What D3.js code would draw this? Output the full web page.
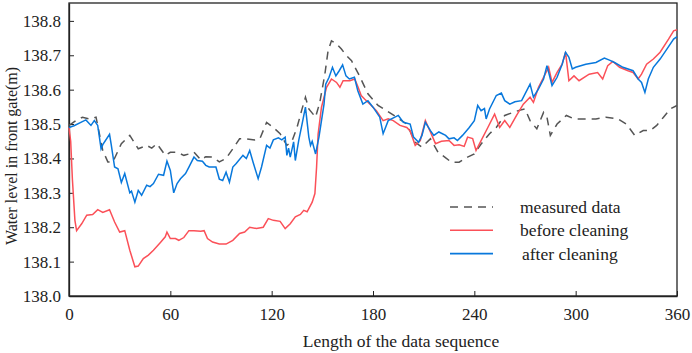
<!DOCTYPE html>
<meta charset="utf-8">
<style>
body { margin: 0; background: #fff; }
.domain { stroke: #222; stroke-width: 1.3px; }
.tick line { stroke: #222; }
</style>
<script src="https://d3js.org/d3.v7.min.js"></script>
<body>
<svg id="chart" width="692" height="353"></svg>
<script>

// sequence positions and water levels
var seqMeasured = [0,4,8,12,16,20,23,26,31,36,41,46,49,52,57,60,64,68,71,74,78,81,85,89,93,97,101,105,110,113,117,121,125,129,132,135,138,140,142,146,148.5,151.5,153.4,155.4,158.4,161.3,164.3,167.3,172,177,183,188,194,200,205,209,214,218.5,222.5,226.4,231,236,240,244,249,253,258,263,266,270,273,277,281,283,285,289,294.5,299,306,312,318,325,330,335,340,344,348,352,356,360];
var levelMeasured = [138.496,138.51,138.52,138.515,138.52,138.423,138.39,138.39,138.443,138.467,138.428,138.438,138.43,138.443,138.409,138.418,138.418,138.409,138.413,138.418,138.396,138.405,138.404,138.39,138.40,138.428,138.457,138.457,138.454,138.457,138.505,138.49,138.472,138.438,138.45,138.49,138.544,138.578,138.544,138.52,138.563,138.645,138.713,138.742,138.733,138.718,138.699,138.684,138.64,138.588,138.554,138.539,138.52,138.50,138.447,138.433,138.457,138.418,138.404,138.389,138.389,138.404,138.413,138.442,138.472,138.49,138.525,138.534,138.539,138.544,138.51,138.486,138.534,138.52,138.467,138.50,138.525,138.515,138.515,138.515,138.52,138.515,138.50,138.467,138.481,138.481,138.496,138.52,138.544,138.554];

var seqBefore = [0,1,2,3.5,4.5,7.5,10.5,14,17,20,24,27,30,33,36,39,41,44,47,50,54,57,58,60,63,65,68,71,74,78,80,82,85,89,93,97,101,104,107,111,115,118,121,125,128,131,134,137,139,141,144,145.6,146.6,147.5,149.5,152.5,155.4,158.4,160.4,162.3,166.3,169.2,171.2,173,175,179,182,186,189,192,196,200,202,205,208,211,214,217,220.5,225,228,231,234,236,239,241,244,248,252,255,258,261,265,269,273,275,278,281,284,286,289,292,294,296,299,302,308,313,316,319,322,326,331,334,337,339,342,346,350,355,358,360];
var levelBefore = [138.49,138.45,138.34,138.22,138.19,138.21,138.235,138.237,138.251,138.243,138.251,138.215,138.186,138.19,138.133,138.085,138.087,138.109,138.119,138.133,138.155,138.172,138.186,138.167,138.167,138.162,138.17,138.19,138.19,138.188,138.19,138.167,138.157,138.151,138.151,138.162,138.182,138.186,138.20,138.196,138.20,138.225,138.22,138.217,138.196,138.21,138.23,138.237,138.249,138.245,138.273,138.298,138.375,138.471,138.549,138.607,138.631,138.621,138.607,138.626,138.626,138.631,138.607,138.583,138.573,138.554,138.539,138.51,138.515,138.51,138.496,138.49,138.48,138.438,138.452,138.51,138.477,138.443,138.45,138.452,138.438,138.44,138.435,138.462,138.458,138.423,138.452,138.49,138.529,138.49,138.51,138.49,138.525,138.558,138.578,138.563,138.607,138.636,138.665,138.621,138.65,138.674,138.709,138.626,138.64,138.626,138.645,138.65,138.631,138.67,138.682,138.665,138.655,138.65,138.631,138.645,138.674,138.689,138.709,138.747,138.771,138.774];

var seqAfter = [0,3,7,10,13,15,17,19,20,24,25,27,29,31,33,36,37,39,41,43,46,48,50,53,56,58,60,62,64,66,69,71,74,76,79,81,83,87,89,91,93,95,97,99,103,105,107,109,112,114,117,119,121,124,126,128,129,130,131,133,134,136,138,140,142,143,144,146,148,151,152,154,156,158,160,162,164,166,169,171,174,177,180,184,186,189,195,198,202,204,207,209,211,214,216,219,223,225,228,230,233,237,240,242,244,246,247,249,253,256,258,261,264,268,273,275,278,281,283,286,289,292,294,296,298,300,306,312,317,320,323,328,334,337,339,341,343,346,350,354,358,360];
var levelAfter = [138.49,138.495,138.505,138.512,138.496,138.51,138.496,138.428,138.44,138.47,138.44,138.375,138.37,138.33,138.356,138.30,138.305,138.273,138.307,138.293,138.322,138.318,138.327,138.354,138.351,138.392,138.365,138.30,138.327,138.341,138.356,138.375,138.404,138.394,138.392,138.38,138.375,138.375,138.34,138.336,138.36,138.331,138.375,138.385,138.409,138.40,138.423,138.389,138.341,138.375,138.438,138.43,138.454,138.46,138.454,138.462,138.409,138.43,138.404,138.448,138.394,138.452,138.50,138.549,138.462,138.438,138.45,138.413,138.462,138.558,138.616,138.636,138.665,138.64,138.655,138.672,138.64,138.631,138.636,138.597,138.558,138.568,138.549,138.52,138.472,138.51,138.525,138.505,138.50,138.462,138.447,138.467,138.505,138.481,138.467,138.477,138.467,138.457,138.46,138.452,138.467,138.49,138.51,138.554,138.539,138.545,138.515,138.544,138.583,138.59,138.568,138.558,138.565,138.568,138.616,138.578,138.602,138.631,138.67,138.612,138.636,138.674,138.709,138.694,138.66,138.665,138.674,138.679,138.692,138.686,138.679,138.665,138.655,138.631,138.621,138.592,138.631,138.665,138.689,138.718,138.747,138.754];

var xTicks = [0, 60, 120, 180, 240, 300, 360];
var yTicks = [138.0, 138.1, 138.2, 138.3, 138.4, 138.5, 138.6, 138.7, 138.8];
var seriesNames = ["measured data", "before cleaning", "after cleaning"];

// -------------------------------------

var serif = "'Liberation Serif', 'Times New Roman', serif";
var margin = {top: 3, right: 15, bottom: 57, left: 69};
var svg = d3.select("#chart");
var W = +svg.attr("width"), H = +svg.attr("height");
var w = W - margin.left - margin.right, h = H - margin.top - margin.bottom;

var g = svg.append("g").attr("transform", "translate(" + margin.left + "," + margin.top + ")");

var x = d3.scaleLinear().domain([0, 360]).range([0, w]);
var y = d3.scaleLinear().domain([138.0, 138.852]).range([h, 0]);

// frame
g.append("rect").attr("width", w).attr("height", h)
    .attr("fill", "none").attr("stroke", "#222").attr("stroke-width", 1.3);

var xAxis = g.append("g").attr("transform", "translate(0," + h + ")")
    .call(d3.axisBottom(x).tickValues(xTicks).tickSizeInner(-5).tickSizeOuter(0).tickPadding(12));

var yAxis = g.append("g")
    .call(d3.axisLeft(y).tickValues(yTicks).tickFormat(d3.format(".1f")).tickSizeInner(-5).tickSizeOuter(0).tickPadding(8));

[xAxis, yAxis].forEach(function(a) {
  a.selectAll(".tick text")
      .style("font-family", serif)
      .style("font-size", "17px")
      .attr("fill", "#222");
});

var line = d3.line()
    .x(function(d) { return x(d[0]); })
    .y(function(d) { return y(d[1]); });

var series = [
  {seq: seqMeasured, level: levelMeasured, color: "#555", dash: "8,6"},
  {seq: seqBefore, level: levelBefore, color: "#fb5058", dash: null},
  {seq: seqAfter, level: levelAfter, color: "#0878dc", dash: null}
];

series.forEach(function(s) {
  g.append("path")
      .datum(d3.zip(s.seq, s.level))
      .attr("fill", "none")
      .attr("stroke", s.color)
      .attr("stroke-width", 1.5)
      .attr("stroke-dasharray", s.dash)
      .attr("d", line);
});

// legend
var legend = svg.append("g").attr("transform", "translate(450,207)");
series.forEach(function(s, i) {
  legend.append("line")
      .attr("x1", 0).attr("x2", 43)
      .attr("y1", i * 23.3).attr("y2", i * 23.3)
      .attr("stroke", s.color).attr("stroke-width", 1.6)
      .attr("stroke-dasharray", s.dash);
  legend.append("text")
      .attr("x", 70 + (i == 2 ? 2 : 0)).attr("y", i * 23.3)
      .attr("dy", "0.35em")
      .style("font-family", serif).style("font-size", "17.5px")
      .attr("fill", "#222")
      .text(seriesNames[i]);
});

svg.append("text")
    .attr("x", 401).attr("y", 347)
    .attr("text-anchor", "middle")
    .style("font-family", serif).style("font-size", "17.5px")
    .attr("fill", "#222")
    .text("Length of the data sequence");

svg.append("text")
    .attr("transform", "translate(17,156) rotate(-90)")
    .attr("text-anchor", "middle")
    .style("font-family", serif).style("font-size", "16px")
    .attr("fill", "#222")
    .text("Water level in front gate(m)");

</script>
</body>
